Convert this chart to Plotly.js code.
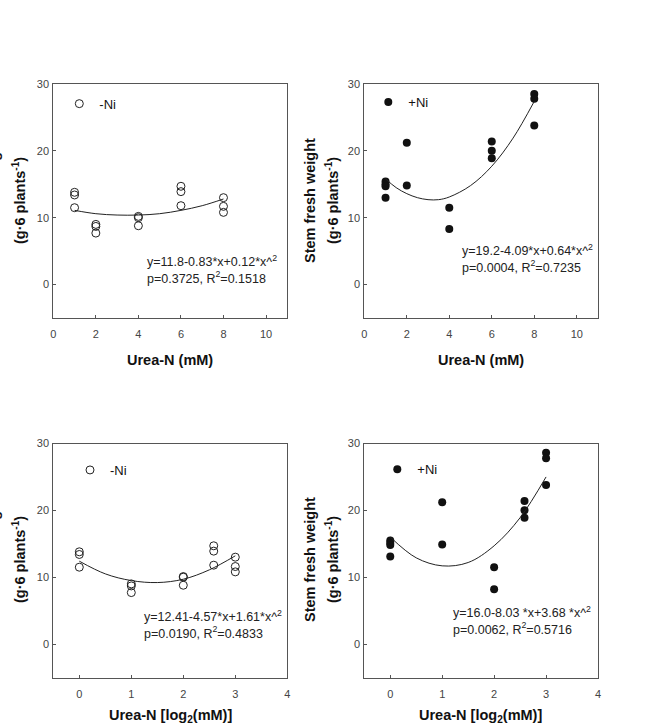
<!DOCTYPE html>
<html>
<head>
<meta charset="utf-8">
<script src="https://cdn.plot.ly/plotly-3.0.1.min.js"></script>
<style>html,body{margin:0;padding:0;background:#fff;}#chart{width:645px;height:723px;}</style>
</head>
<body>
<div id="chart"></div>
<script>
// ---- data ----
// Panel A: -Ni vs Urea-N (mM)
const xA = [1,1,1, 2,2,2, 4,4,4, 6,6,6, 8,8,8];
const yA = [13.8,13.4,11.5, 9.0,8.7,7.7, 10.2,10.0,8.8, 14.7,13.9,11.8, 13.0,11.7,10.8];
const fitXA = [1,2,3,4,5,6,7,8];
const fitYA = [11.1,10.6,10.4,10.4,10.6,11.1,11.8,12.8];
// Panel B: +Ni vs Urea-N (mM)
const xB = [1,1,1,1, 2,2, 4,4, 6,6,6, 8,8,8];
const yB = [15.4,15.0,14.7,13.0, 21.2,14.8, 11.5,8.3, 21.4,20.0,18.9, 28.5,27.8,23.8];
const fitXB = [1,1.5,2,2.5,3,3.5,4,5,6,7,8];
const fitYB = [15.8,14.5,13.6,13.0,12.7,12.7,13.1,14.8,17.7,21.9,27.4];
// Panel C: -Ni vs Urea-N [log2(mM)]
const xC = [0,0,0, 1,1,1, 2,2,2, 2.585,2.585,2.585, 3,3,3];
const yC = [13.8,13.4,11.5, 9.0,8.7,7.7, 10.1,10.0,8.8, 14.7,13.9,11.8, 13.0,11.6,10.8];
const fitXC = [0,0.5,1,1.5,2,2.5,3];
const fitYC = [12.4,10.5,9.5,9.2,9.7,11.1,13.2];
// Panel D: +Ni vs Urea-N [log2(mM)]
const xD = [0,0,0,0, 1,1, 2,2, 2.585,2.585,2.585, 3,3,3];
const yD = [15.5,15.1,14.8,13.1, 21.2,14.9, 11.5,8.2, 21.4,20.0,18.9, 28.6,27.8,23.8];
const fitXD = [0,0.5,1,1.5,2,2.5,3];
const fitYD = [16.0,12.9,11.7,12.2,14.7,18.9,25.0];

const eqA = "y=11.8-0.83*x+0.12*x^<sup>2</sup><br>p=0.3725, R<sup>2</sup>=0.1518";
const eqB = "y=19.2-4.09*x+0.64*x^<sup>2</sup><br>p=0.0004, R<sup>2</sup>=0.7235";
const eqC = "y=12.41-4.57*x+1.61*x^<sup>2</sup><br>p=0.0190, R<sup>2</sup>=0.4833";
const eqD = "y=16.0-8.03 *x+3.68 *x^<sup>2</sup><br>p=0.0062, R<sup>2</sup>=0.5716";

const xTicksMM = [0,2,4,6,8,10];
const xTicksLog = [0,1,2,3,4];
const yTicks = [0,10,20,30];

// ---- styling ----
const FONT = "Arial, 'Liberation Sans', sans-serif";
const W = 645, H = 723;
const px = v => v / W;
const py = v => 1 - v / H;

const openMk = {symbol:'circle-open', size:8, color:'#222', line:{width:1, color:'#222'}};
const fillMk = {symbol:'circle', size:8, color:'#111'};
const fitLine = {color:'#222', width:1, shape:'spline'};

function sc(x,y,xa,ya,mk,name,leg){
  return {x:x, y:y, xaxis:xa, yaxis:ya, type:'scatter', mode:'markers', marker:mk,
          name:name, legend:leg, showlegend:true, hoverinfo:'skip'};
}
function fit(x,y,xa,ya){
  return {x:x, y:y, xaxis:xa, yaxis:ya, type:'scatter', mode:'lines', line:fitLine,
          showlegend:false, hoverinfo:'skip'};
}

const traces = [
  sc(xA,yA,'x','y',openMk,'-Ni','legend'),   fit(fitXA,fitYA,'x','y'),
  sc(xB,yB,'x2','y2',fillMk,'+Ni','legend2'), fit(fitXB,fitYB,'x2','y2'),
  sc(xC,yC,'x3','y3',openMk,'-Ni','legend3'), fit(fitXC,fitYC,'x3','y3'),
  sc(xD,yD,'x4','y4',fillMk,'+Ni','legend4'), fit(fitXD,fitYD,'x4','y4')
];

const domL = [px(53.3), px(287.3)];
const domR = [px(364.3), px(598.0)];
const domT = [py(318), py(84)];
const domB = [py(677.5), py(443.5)];

function xax(dom, anchor, range, ticks){
  return {domain:dom, anchor:anchor, range:range, tickvals:ticks, ticktext:ticks.map(String),
    showline:true, mirror:true, linecolor:'#555', linewidth:1, ticks:'inside', ticklen:3,
    tickcolor:'#555', showgrid:false, zeroline:false, ticklabelstandoff:6,
    tickfont:{family:FONT, size:11, color:'#444'}};
}
function yax(dom, anchor){
  return {domain:dom, anchor:anchor, range:[-5,30], tickvals:yTicks, ticktext:yTicks.map(String),
    showline:true, mirror:true, linecolor:'#555', linewidth:1, ticks:'inside', ticklen:3,
    tickcolor:'#555', showgrid:false, zeroline:false, ticklabelstandoff:1,
    tickfont:{family:FONT, size:11, color:'#444'}};
}
function leg(xc, yc){
  return {x:px(xc-20), y:py(yc), xanchor:'left', yanchor:'middle', bgcolor:'rgba(0,0,0,0)',
    borderwidth:0, font:{family:FONT, size:13, color:'#111'}};
}

const annotations = [];
function eq(text, xref, yref, x, y){
  annotations.push({text:text, xref:xref, yref:yref, x:x, y:y, xanchor:'left', yanchor:'middle',
    showarrow:false, align:'left', font:{family:FONT, size:12.5, color:'#222'}});
}
eq(eqA,'x','y',4.3,2.24);
eq(eqB,'x2','y2',4.5,3.95);
eq(eqC,'x3','y3',1.2,2.93);
eq(eqD,'x4','y4',1.165,3.55);

function title(text, x, y, angle){
  annotations.push({text:text, xref:'paper', yref:'paper', x:px(x), y:py(y), xanchor:'center',
    yanchor:'middle', showarrow:false, textangle:angle,
    font:{family:FONT, size:14.5, color:'#111', weight:'bold'}});
}
const xTitleMM = "<b>Urea-N (mM)</b>";
const xTitleLog = "<b>Urea-N [log<sub>2</sub>(mM)]</b>";
const yTitle1 = "<b>Stem fresh weight</b>";
const yTitle2 = "<b>(g·6 plants<sup>-1</sup>)</b>";
title(xTitleMM, 170, 360, 0);
title(xTitleMM, 481, 360, 0);
title(xTitleLog, 170, 716, 0);
title(xTitleLog, 481, 716, 0);
title(yTitle1, -6, 201, -90);
title(yTitle2, 19, 201, -90);
title(yTitle1, 310, 201, -90);
title(yTitle2, 332, 201, -90);
title(yTitle1, -6, 560, -90);
title(yTitle2, 19, 560, -90);
title(yTitle1, 310, 560, -90);
title(yTitle2, 332, 560, -90);

const layout = {
  width:W, height:H, margin:{l:0,r:0,t:0,b:0}, paper_bgcolor:'#fff', plot_bgcolor:'#fff',
  font:{family:FONT},
  xaxis: xax(domL,'y',[0,11],xTicksMM),   yaxis: yax(domT,'x'),
  xaxis2: xax(domR,'y2',[0,11],xTicksMM), yaxis2: yax(domT,'x2'),
  xaxis3: xax(domL,'y3',[-0.5,4],xTicksLog), yaxis3: yax(domB,'x3'),
  xaxis4: xax(domR,'y4',[-0.5,4],xTicksLog), yaxis4: yax(domB,'x4'),
  legend: leg(79.3,103.7),
  legend2: leg(388.3,102),
  legend3: leg(90,470),
  legend4: leg(397.3,469.3),
  annotations: annotations
};

Plotly.newPlot('chart', traces, layout, {staticPlot:true, displayModeBar:false});
</script>
</body>
</html>
